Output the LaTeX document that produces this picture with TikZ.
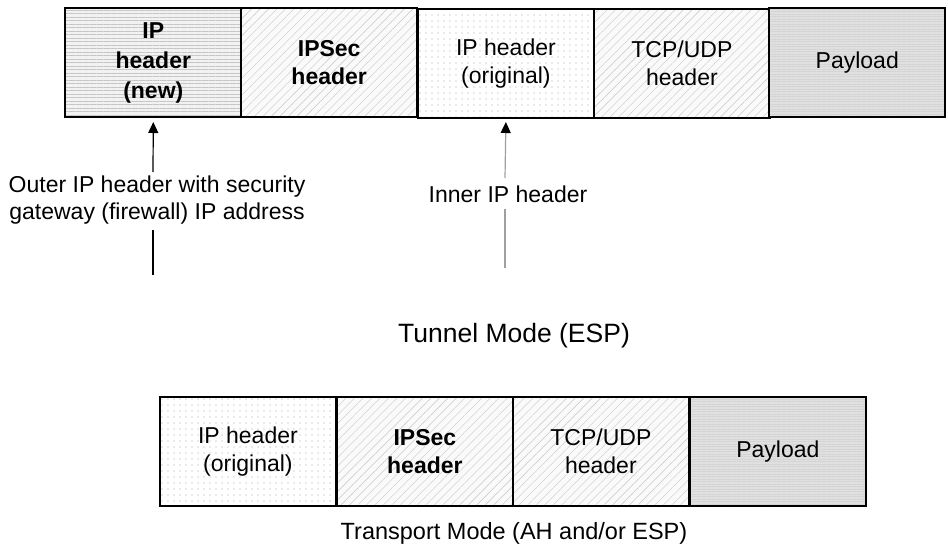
\documentclass[tikz,border=0pt]{standalone}
\usepackage{fontspec}
\setmainfont{Liberation Sans}
\usetikzlibrary{patterns.meta,arrows.meta}
\begin{document}
\begin{tikzpicture}[x=1pt,y=-1pt,
  cell/.style={draw=black,line width=1.8pt,minimum width=176pt,minimum height=109pt,anchor=north west,inner sep=0pt,align=center,font=\fontsize{23}{28}\selectfont},
  hlines/.style={preaction={fill=gray!10},pattern={Lines[angle=0,distance=3.5pt,line width=0.6pt]},pattern color=gray!45},
  diag/.style={preaction={fill=gray!4},pattern={Lines[angle=45,distance=6pt,line width=0.4pt]},pattern color=gray!45},
  dotty/.style={preaction={fill=white},pattern={Dots[distance=6pt,radius=0.6pt]},pattern color=gray!70},
  payl/.style={preaction={fill=gray!24},pattern={Lines[angle=0,distance=2.5pt,line width=0.5pt]},pattern color=gray!34},
  lbl/.style={align=center,font=\fontsize{23}{27}\selectfont,inner sep=0pt},
  arr/.style={line width=1.2pt,-{Triangle[length=11pt,width=10pt,color=black]}},
  seg/.style={line width=1.2pt}]
\useasboundingbox (0,0) rectangle (948,549);
% top row (tunnel mode)
\node[cell,hlines,font=\fontsize{23}{30}\selectfont\bfseries] (tnew) at (65,8) {IP\\header\\(new)};
\node[cell,diag,font=\fontsize{23}{28}\selectfont\bfseries] (tsec) at (241,8) {IPSec\\header};
\node[cell,dotty] (torig) at (417,8) {IP header\\(original)};
\node[cell,diag] (ttcp) at (593,8) {TCP/UDP\\header};
\node[cell,payl] (tpay) at (769,8) {Payload};
% labels and arrows
\node[lbl] (outer) at (157,200) {Outer IP header with security\\gateway (firewall) IP address};
\node[lbl] (inner) at (508,194) {Inner IP header};
\coordinate (obot) at (153,275);
\coordinate (otop) at (153,172);
\coordinate (ibot) at (505,268);
\coordinate (itop) at (505,178);
\coordinate (ilow) at (505,209);
\coordinate (olow) at (153,230);
\draw[arr] (otop) -- (tnew.south |- 0,122);
\draw[seg] (obot) -- (olow);
\draw[arr,draw=gray!75] (itop) -- (torig.south |- 0,122);
\draw[seg,draw=gray!75] (ibot) -- (ilow);
\node[lbl,font=\fontsize{26.5}{30}\selectfont] (tunnel) at (514,336) {Tunnel Mode (ESP)};
% bottom row (transport mode)
\node[cell,dotty] (borig) at (159,396) {IP header\\(original)};
\node[cell,diag,font=\fontsize{23}{28}\selectfont\bfseries] (bsec) at (336,396) {IPSec\\header};
\node[cell,diag] (btcp) at (512,396) {TCP/UDP\\header};
\node[cell,payl] (bpay) at (689,396) {Payload};
\node[lbl,font=\fontsize{23.5}{28}\selectfont] (transport) at (514,533) {Transport Mode (AH and/or ESP)};
\end{tikzpicture}
\end{document}
